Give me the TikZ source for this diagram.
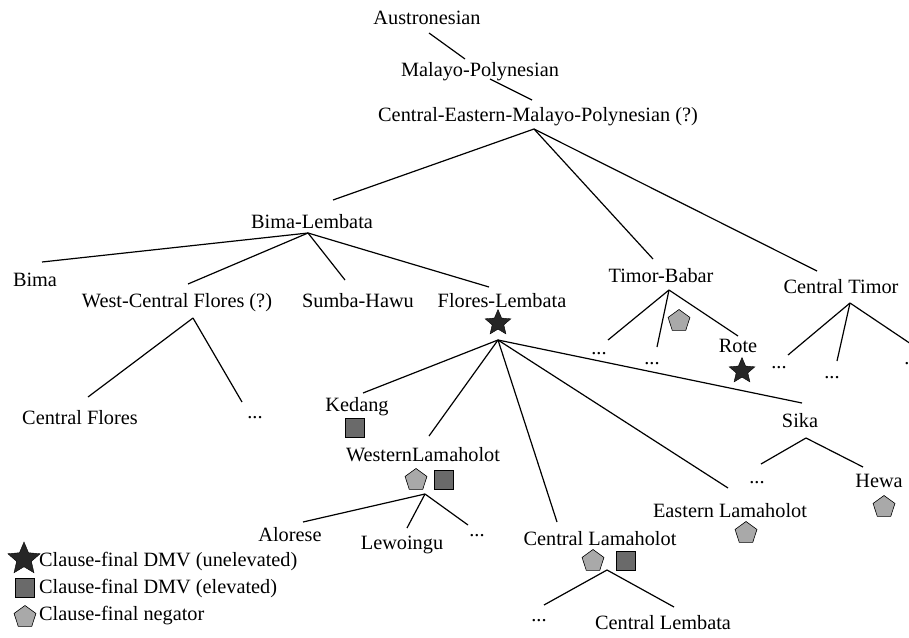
\documentclass[tikz,border=0pt]{standalone}
\usepackage{fontspec}
\setmainfont{Liberation Serif}
\usetikzlibrary{shapes.geometric}
\definecolor{stardark}{HTML}{262626}
\definecolor{sqgray}{HTML}{6A6A6A}
\definecolor{pentgray}{HTML}{A9A9A9}
\tikzset{
  lbl/.style={inner sep=0pt, text height=13pt, text depth=4pt, font=\fontsize{20.3}{23}\selectfont},
  lgd/.style={lbl, anchor=west},
  edge/.style={line width=1.2pt},
  starmark/.style={star, star points=5, star point ratio=2.2, fill=stardark, draw=black, line width=0.4pt, minimum size=27pt, inner sep=0pt},
  sqmark/.style={rectangle, fill=sqgray, draw=black, line width=0.6pt, minimum size=19pt, inner sep=0pt},
  pentmark/.style={regular polygon, regular polygon sides=5, fill=pentgray, draw=black, line width=0.6pt, minimum size=23pt, inner sep=0pt}
}
\begin{document}
\begin{tikzpicture}[x=1pt,y=-1pt]
\useasboundingbox (0,0) rectangle (909,637);
% text nodes
\node[lbl] (aus) at (427,20) {Austronesian};
\node[lbl] (mp) at (480,72) {Malayo-Polynesian};
\node[lbl] (cemp) at (538,117) {Central-Eastern-Malayo-Polynesian (?)};
\node[lbl] (bl) at (312,224) {Bima-Lembata};
\node[lbl] (bima) at (35,282) {Bima};
\node[lbl] (wcf) at (177,303) {West-Central Flores (?)};
\node[lbl] (sh) at (358,303) {Sumba-Hawu};
\node[lbl] (fl) at (502,303) {Flores-Lembata};
\node[lbl] (cf) at (80,420) {Central Flores};
\node[lbl] (wcfd) at (255,414) {...};
\node[lbl] (tb) at (661,278) {Timor-Babar};
\node[lbl] (tbd1) at (599,350) {...};
\node[lbl] (tbd2) at (652,360) {...};
\node[lbl] (rote) at (738,348) {Rote};
\node[lbl] (ct) at (841,289) {Central Timor};
\node[lbl] (ctd1) at (779,364) {...};
\node[lbl] (ctd2) at (832,374) {...};
\node[lbl] (ctd3) at (912,360) {...};
\node[lbl] (ked) at (357,407) {Kedang};
\node[lbl] (wl) at (423,457) {WesternLamaholot};
\node[lbl] (alo) at (290,537) {Alorese};
\node[lbl] (lew) at (402,545) {Lewoingu};
\node[lbl] (wld) at (477,532) {...};
\node[lbl] (cl) at (600,541) {Central Lamaholot};
\node[lbl] (cld) at (539,617) {...};
\node[lbl] (clb) at (663,625) {Central Lembata};
\node[lbl] (el) at (730,513) {Eastern Lamaholot};
\node[lbl] (sika) at (800,423) {Sika};
\node[lbl] (sikad) at (757,479) {...};
\node[lbl] (hewa) at (879,483) {Hewa};
% feature marks
\node[starmark] (flstar) at (498,323) {};
\node[starmark] (rotestar) at (742,371) {};
\node[pentmark] (tbpent) at (679,321) {};
\node[sqmark] (kedsq) at (355,428) {};
\node[pentmark] (wlpent) at (416,480) {};
\node[sqmark] (wlsq) at (444,480) {};
\node[pentmark] (clpent) at (593,561) {};
\node[sqmark] (clsq) at (626,561) {};
\node[pentmark] (elpent) at (746,533) {};
\node[pentmark] (hewapent) at (884,507) {};
% connector points
\coordinate (aus-b) at (429,33);
\coordinate (mp-t) at (465,59);
\coordinate (mp-b) at (490,79);
\coordinate (cemp-t) at (532,100);
\coordinate (cemp-r) at (534,129);
\coordinate (bl-t) at (333,200);
\coordinate (tb-t) at (653,259);
\coordinate (ct-t) at (817,271);
\coordinate (bl-r) at (308,233);
\coordinate (bima-t) at (42,262);
\coordinate (wcf-t) at (188,284);
\coordinate (sh-t) at (345,280);
\coordinate (fl-t) at (489,287);
\coordinate (wcf-r) at (193,318);
\coordinate (cf-t) at (88,397);
\coordinate (wcfd-t) at (242,402);
\coordinate (fl-r) at (498,340);
\coordinate (ked-t) at (363,393);
\coordinate (wl-t) at (429,436);
\coordinate (cl-t) at (557,522);
\coordinate (el-t) at (728,488);
\coordinate (sika-t) at (802,403);
\coordinate (wl-r) at (425,494);
\coordinate (alo-t) at (303,522);
\coordinate (lew-t) at (407,528);
\coordinate (wld-t) at (468,525);
\coordinate (cl-r) at (607,570);
\coordinate (cld-t) at (544,605);
\coordinate (clb-t) at (674,607);
\coordinate (sika-r) at (806,438);
\coordinate (sikad-t) at (761,464);
\coordinate (hewa-t) at (863,467);
\coordinate (tb-r) at (669,290);
\coordinate (tbd1-t) at (608,340);
\coordinate (tbd2-t) at (657,347);
\coordinate (rote-t) at (738,336);
\coordinate (ct-r) at (850,303);
\coordinate (ctd1-t) at (788,355);
\coordinate (ctd2-t) at (837,361);
\coordinate (ctd3-t) at (911,344);
% connectors
\draw[edge] (aus-b) -- (mp-t);
\draw[edge] (mp-b) -- (cemp-t);
\draw[edge] (cemp-r) -- (bl-t);
\draw[edge] (cemp-r) -- (tb-t);
\draw[edge] (cemp-r) -- (ct-t);
\draw[edge] (bl-r) -- (bima-t);
\draw[edge] (bl-r) -- (wcf-t);
\draw[edge] (bl-r) -- (sh-t);
\draw[edge] (bl-r) -- (fl-t);
\draw[edge] (wcf-r) -- (cf-t);
\draw[edge] (wcf-r) -- (wcfd-t);
\draw[edge] (fl-r) -- (ked-t);
\draw[edge] (fl-r) -- (wl-t);
\draw[edge] (fl-r) -- (cl-t);
\draw[edge] (fl-r) -- (el-t);
\draw[edge] (fl-r) -- (sika-t);
\draw[edge] (wl-r) -- (alo-t);
\draw[edge] (wl-r) -- (lew-t);
\draw[edge] (wl-r) -- (wld-t);
\draw[edge] (cl-r) -- (cld-t);
\draw[edge] (cl-r) -- (clb-t);
\draw[edge] (sika-r) -- (sikad-t);
\draw[edge] (sika-r) -- (hewa-t);
\draw[edge] (tb-r) -- (tbd1-t);
\draw[edge] (tb-r) -- (tbd2-t);
\draw[edge] (tb-r) -- (rote-t);
\draw[edge] (ct-r) -- (ctd1-t);
\draw[edge] (ct-r) -- (ctd2-t);
\draw[edge] (ct-r) -- (ctd3-t);
% legend
\node[starmark, minimum size=34pt] (lgstar) at (24,559) {};
\node[sqmark] (lgsq) at (25,588) {};
\node[pentmark] (lgpent) at (25,617) {};
\node[lgd] (lgt1) at (39,562) {Clause-final DMV (unelevated)};
\node[lgd] (lgt2) at (39,589) {Clause-final DMV (elevated)};
\node[lgd] (lgt3) at (39,616) {Clause-final negator};
\end{tikzpicture}
\end{document}
